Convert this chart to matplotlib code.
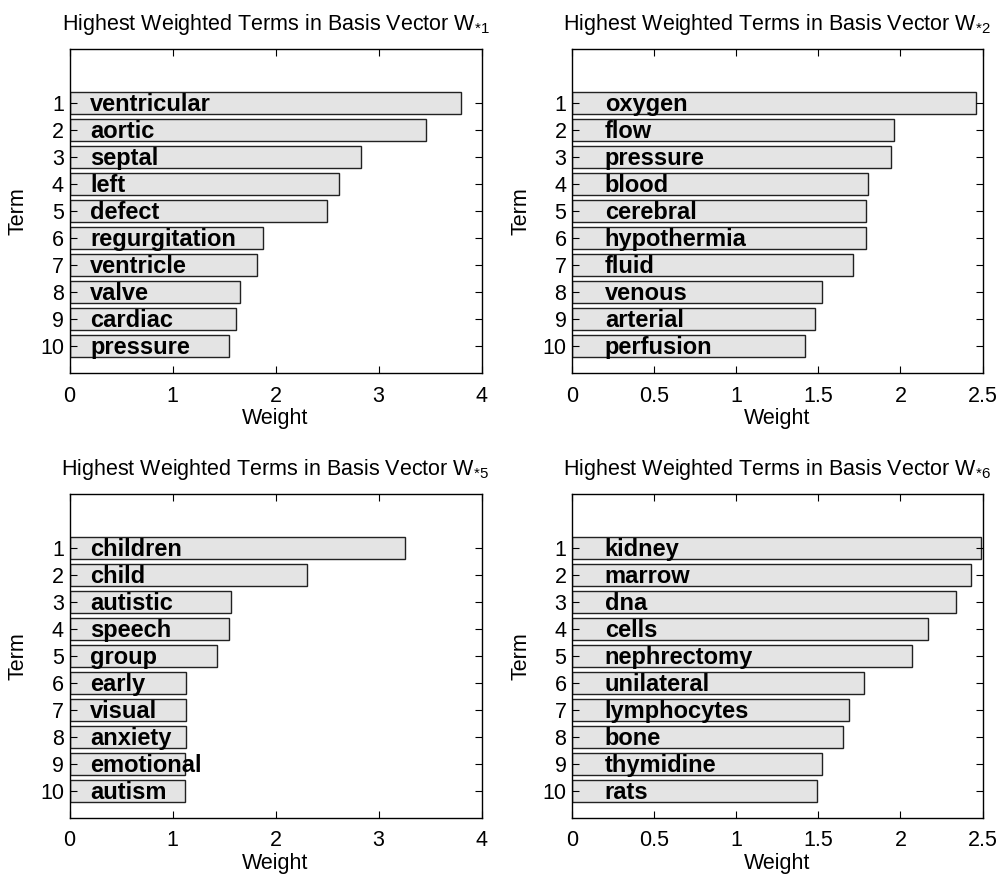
import numpy as np
import matplotlib
matplotlib.use('Agg')
import matplotlib.pyplot as plt

plt.rcParams['font.family'] = ['Liberation Sans', 'DejaVu Sans']
plt.rcParams['mathtext.default'] = 'regular'

# terms and weights for each basis vector
terms_w1 = ['ventricular', 'aortic', 'septal', 'left', 'defect',
            'regurgitation', 'ventricle', 'valve', 'cardiac', 'pressure']
weights_w1 = [3.80, 3.46, 2.83, 2.62, 2.50, 1.88, 1.82, 1.66, 1.62, 1.55]

terms_w2 = ['oxygen', 'flow', 'pressure', 'blood', 'cerebral',
            'hypothermia', 'fluid', 'venous', 'arterial', 'perfusion']
weights_w2 = [2.46, 1.96, 1.94, 1.80, 1.79, 1.79, 1.71, 1.52, 1.48, 1.42]

terms_w5 = ['children', 'child', 'autistic', 'speech', 'group',
            'early', 'visual', 'anxiety', 'emotional', 'autism']
weights_w5 = [3.26, 2.31, 1.57, 1.55, 1.43, 1.13, 1.13, 1.13, 1.12, 1.12]

terms_w6 = ['kidney', 'marrow', 'dna', 'cells', 'nephrectomy',
            'unilateral', 'lymphocytes', 'bone', 'thymidine', 'rats']
weights_w6 = [2.49, 2.43, 2.34, 2.17, 2.07, 1.78, 1.69, 1.65, 1.52, 1.49]

panels = [
    ('1', terms_w1, weights_w1, 4, [0, 1, 2, 3, 4], ['0', '1', '2', '3', '4']),
    ('2', terms_w2, weights_w2, 2.5, [0, 0.5, 1, 1.5, 2, 2.5], ['0', '0.5', '1', '1.5', '2', '2.5']),
    ('5', terms_w5, weights_w5, 4, [0, 1, 2, 3, 4], ['0', '1', '2', '3', '4']),
    ('6', terms_w6, weights_w6, 2.5, [0, 0.5, 1, 1.5, 2, 2.5], ['0', '0.5', '1', '1.5', '2', '2.5']),
]

W, H = 1005, 877
fig = plt.figure(figsize=(W / 100, H / 100), dpi=100)

# axes boxes in pixels: left, top, right, bottom
boxes = [(69.5, 49, 481.5, 373), (572, 49, 982.5, 373),
         (69.5, 494, 481.5, 818), (572, 494, 982.5, 818)]

fs = 15.5
for (idx, terms, weights, xmax, xt, xtl), (l, t, r, b) in zip(panels, boxes):
    ax = fig.add_axes([l / W, 1 - b / H, (r - l) / W, (b - t) / H])
    pos = np.arange(1, len(terms) + 1)
    ax.barh(pos, weights, height=0.8, color='#e4e4e4', edgecolor='#222222', linewidth=1.0)
    for p, term in zip(pos, terms):
        ax.text(0.2, p + 0.05, term, fontsize=17, fontweight='bold', va='center', ha='left')
    ax.set_xlim(0, xmax)
    ax.set_ylim(11, -1)
    ax.set_xticks(xt)
    ax.set_xticklabels(xtl)
    ax.set_yticks(pos)
    ax.set_yticklabels([str(p) for p in pos])
    ax.tick_params(direction='in', top=True, right=True, length=5, width=0.8, labelsize=fs, pad=4)
    ax.tick_params(axis='x', pad=9)
    for s in ax.spines.values():
        s.set_linewidth(1.0)
    ax.set_xlabel('Weight', fontsize=fs, labelpad=1)
    ax.set_ylabel('Term', fontsize=fs, labelpad=8)
    ax.set_title('Highest Weighted Terms in Basis Vector W$_{*' + idx + '}$', fontsize=fs, pad=14)

fig.savefig('out.png', dpi=100)
